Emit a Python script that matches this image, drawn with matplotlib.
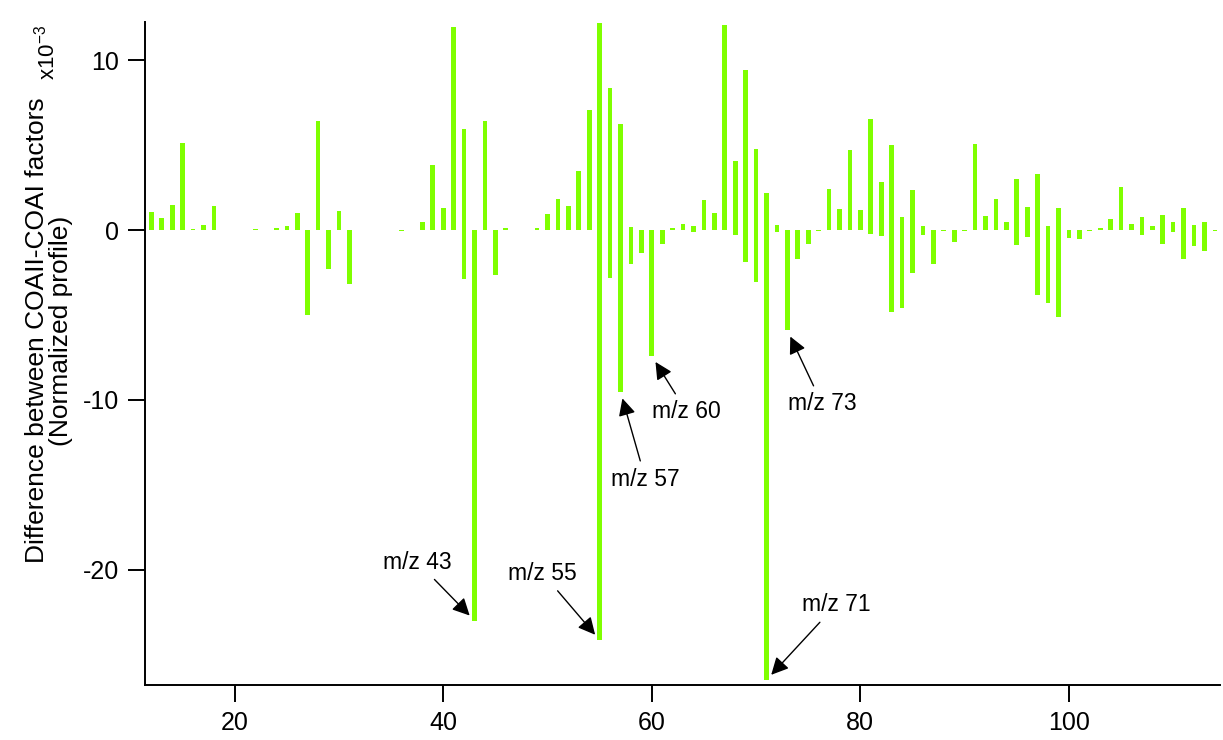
import matplotlib
matplotlib.use("Agg")
import matplotlib.pyplot as plt

plt.rcParams['font.family'] = ['Liberation Sans', 'DejaVu Sans']
plt.rcParams['axes.unicode_minus'] = False
plt.rcParams['mathtext.fontset'] = 'custom'
plt.rcParams['mathtext.rm'] = 'Liberation Sans'
plt.rcParams['mathtext.it'] = 'Liberation Sans'

# positive part of the difference (x10^-3)
pos_mz = [12, 13, 14, 15, 16, 17, 18, 22, 24, 25, 26, 28, 30, 32, 38, 39, 40, 41, 42, 44,
          46, 49, 50, 51, 52, 53, 54, 55, 56, 57, 58, 62, 63, 64, 65, 66, 67, 68, 69, 70,
          71, 72, 77, 78, 79, 80, 81, 82, 83, 84, 85, 86, 91, 92, 93, 94, 95, 96, 97, 98,
          99, 103, 104, 105, 106, 107, 108, 109, 110, 111, 112, 113]
pos_val = [1.05, 0.7, 1.5, 5.15, 0.04, 0.33, 1.45, 0.05, 0.1, 0.25, 1.0, 6.44, 1.12, 0.03, 0.5, 3.83, 1.33, 11.94, 5.95, 6.44,
           0.15, 0.1, 0.94, 1.83, 1.43, 3.51, 7.1, 12.2, 8.38, 6.26, 0.2, 0.14, 0.37, 0.27, 1.77, 0.98, 12.1, 4.06, 9.42, 4.77,
           2.16, 0.29, 2.41, 1.24, 4.73, 1.18, 6.54, 2.83, 4.99, 0.77, 2.36, 0.26, 5.08, 0.82, 1.85, 0.47, 3.04, 1.39, 3.3, 0.26,
           1.28, 0.1, 0.63, 2.53, 0.37, 0.77, 0.26, 0.88, 0.47, 1.32, 0.29, 0.47]

# negative part of the difference (x10^-3)
neg_mz = [27, 29, 31, 36, 42, 43, 45, 55, 56, 57, 58, 59, 60, 61, 64, 68, 69, 70, 71, 72,
          73, 74, 75, 76, 81, 82, 83, 84, 85, 86, 87, 88, 89, 90, 95, 96, 97, 98, 99, 100,
          101, 102, 107, 109, 110, 111, 112, 113, 114]
neg_val = [-5.0, -2.3, -3.18, -0.05, -2.9, -23.0, -2.67, -24.15, -2.81, -9.52, -2.0, -1.37, -7.42, -0.8, -0.1, -0.3, -1.86, -3.04, -26.5, -0.1,
           -5.9, -1.73, -0.79, -0.03, -0.24, -0.35, -4.81, -4.57, -2.55, -0.3, -1.98, -0.08, -0.69, -0.03, -0.86, -0.39, -3.85, -4.3, -5.1, -0.49,
           -0.51, -0.05, -0.29, -0.79, -0.1, -1.73, -0.92, -1.22, -0.05]

# labelled peaks: m/z, text offset in points
labels = [43, 55, 57, 60, 71, 73]
offsets = [(-41, 42), (-41, 48), (18, -63), (25, -40), (50, 54), (25, -53)]

green = '#7fff00'

fig = plt.figure(figsize=(12.23, 7.40), dpi=100)
ax = fig.add_axes([0.1186, 0.0743, 0.879, 0.8957])

ax.bar(pos_mz, pos_val, width=0.45, color=green, linewidth=0)
ax.bar(neg_mz, neg_val, width=0.45, color=green, linewidth=0)

for mz, off in zip(labels, offsets):
    y = neg_val[neg_mz.index(mz)]
    ax.annotate('m/z %d' % mz, xy=(mz, y), xytext=off, textcoords='offset points',
                ha='center', va='center', fontsize=16.5,
                arrowprops=dict(arrowstyle='-|>', color='black', lw=1,
                                mutation_scale=26, shrinkA=3, shrinkB=5))

ax.set_xlim(11.4, 114.5)
ax.set_ylim(-26.8, 12.25)
ax.set_xticks([20, 40, 60, 80, 100])
ax.set_yticks([-20, -10, 0, 10])

ax.spines['top'].set_visible(False)
ax.spines['right'].set_visible(False)
ax.spines['left'].set_linewidth(1.4)
ax.spines['bottom'].set_linewidth(1.4)
ax.tick_params(axis='both', direction='out', length=12, width=1.4, labelsize=18, pad=7)

ax.set_ylabel('Difference between COAII-COAI factors\n(Normalized profile)', fontsize=19,
              linespacing=1.0)
ax.yaxis.set_label_coords(-0.067, 0.535)

fig.text(47 / 1223, 1 - 52 / 740, r'x10$^{-3}$', rotation=90, fontsize=16,
         ha='center', va='center')

plt.savefig('out.png', dpi=100, facecolor='white')
